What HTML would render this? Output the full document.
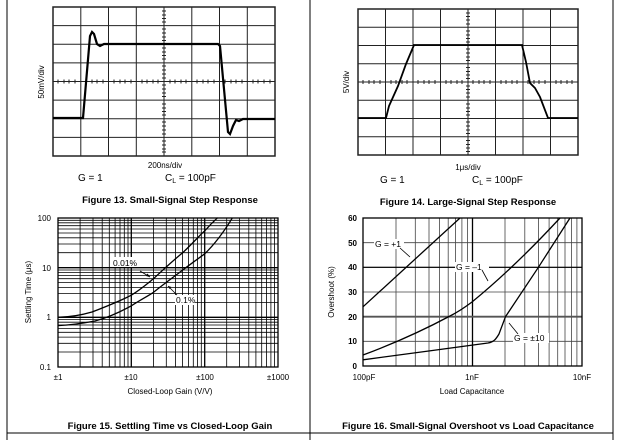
<!DOCTYPE html>
<html><head><meta charset="utf-8"><style>
html,body{margin:0;padding:0;background:#fff;}
svg{display:block;font-family:"Liberation Sans",Arial,sans-serif;}
</style></head><body>
<svg width="620" height="440" viewBox="0 0 620 440" xmlns="http://www.w3.org/2000/svg">
<rect width="620" height="440" fill="#fff"/>
<!-- frame lines -->
<line x1="7" y1="0" x2="7" y2="440" stroke="#000" stroke-width="1"/>
<line x1="310" y1="0" x2="310" y2="440" stroke="#000" stroke-width="1"/>
<line x1="613" y1="0" x2="613" y2="440" stroke="#000" stroke-width="1"/>
<line x1="7" y1="433" x2="613" y2="433" stroke="#000" stroke-width="1"/>

<!-- FIG 13 scope -->
<g stroke="#222" stroke-width="1" fill="none">
<rect x="53" y="7" width="222" height="149" stroke-width="1.5"/>
<path d="M80.8 7V156M108.5 7V156M136.3 7V156M164 7V156M191.8 7V156M219.5 7V156M247.3 7V156"/>
<path d="M53 25.6H275M53 44.3H275M53 62.9H275M53 81.5H275M53 100.1H275M53 118.8H275M53 137.4H275"/>
</g>
<g stroke="#222" stroke-width="1">
<path d="M58 79.5V83.5M64 79.5V83.5M69 79.5V83.5M75 79.5V83.5M86 79.5V83.5M92 79.5V83.5M97 79.5V83.5M103 79.5V83.5M114 79.5V83.5M120 79.5V83.5M125 79.5V83.5M131 79.5V83.5M142 79.5V83.5M147 79.5V83.5M153 79.5V83.5M158 79.5V83.5M170 79.5V83.5M175 79.5V83.5M181 79.5V83.5M186 79.5V83.5M197 79.5V83.5M203 79.5V83.5M208 79.5V83.5M214 79.5V83.5M225 79.5V83.5M231 79.5V83.5M236 79.5V83.5M242 79.5V83.5M253 79.5V83.5M258 79.5V83.5M264 79.5V83.5M270 79.5V83.5"/>
<path d="M162 11H166M162 15H166M162 18.5H166M162 22H166M162 29H166M162 33H166M162 37H166M162 40.5H166M162 48H166M162 52H166M162 55.5H166M162 59H166M162 66H166M162 70H166M162 74H166M162 78H166M162 85H166M162 89H166M162 93H166M162 96.5H166M162 104H166M162 108H166M162 111.5H166M162 115H166M162 122H166M162 126H166M162 130H166M162 134H166M162 141H166M162 145H166M162 149H166M162 152H166"/>
</g>
<path d="M53 118H83L90 36L92 32L94 34L97 44L100 46L104 44L108 44H218L220 46L228 132L230 134L233 126L236 120L239 121L243 119H275" fill="none" stroke="#000" stroke-width="2.2"/>
<text transform="translate(44,82) rotate(-90)" font-size="8" text-anchor="middle">50mV/div</text>
<text x="165" y="168" font-size="8" text-anchor="middle">200ns/div</text>
<text x="78" y="181" font-size="10">G = 1</text>
<text x="165" y="181" font-size="10">C<tspan font-size="7" dy="2">L</tspan><tspan dy="-2"> = 100pF</tspan></text>
<text x="170" y="203" font-size="9.5" font-weight="bold" text-anchor="middle">Figure 13. Small-Signal Step Response</text>

<!-- FIG 14 scope -->
<g stroke="#222" stroke-width="1" fill="none">
<rect x="358" y="9" width="220" height="146" stroke-width="1.5"/>
<path d="M385.5 9V155M413 9V155M440.5 9V155M468 9V155M495.5 9V155M523 9V155M550.5 9V155"/>
<path d="M358 27.3H578M358 45.5H578M358 63.8H578M358 82H578M358 100.3H578M358 118.5H578M358 136.8H578"/>
</g>
<g stroke="#222" stroke-width="1">
<path d="M363 80V84M369 80V84M374 80V84M380 80V84M391 80V84M396 80V84M402 80V84M407 80V84M418 80V84M424 80V84M429 80V84M435 80V84M446 80V84M451 80V84M457 80V84M462 80V84M473 80V84M479 80V84M484 80V84M490 80V84M501 80V84M506 80V84M512 80V84M517 80V84M528 80V84M534 80V84M539 80V84M545 80V84M556 80V84M561 80V84M567 80V84M572 80V84"/>
<path d="M466 13H470M466 16.5H470M466 20H470M466 24H470M466 31H470M466 35H470M466 38.5H470M466 42H470M466 49H470M466 53H470M466 57H470M466 60.5H470M466 67.5H470M466 71.5H470M466 75H470M466 78.5H470M466 86H470M466 89.5H470M466 93H470M466 97H470M466 104H470M466 108H470M466 111.5H470M466 115H470M466 122H470M466 126H470M466 130H470M466 133.5H470M466 140.5H470M466 144.5H470M466 148H470M466 151.5H470"/>
</g>
<path d="M358 118H386L389 106L398 86L406 64L414 45H522L526 62L530 83L535 88L540 97L548 118H578" fill="none" stroke="#000" stroke-width="1.8"/>
<text transform="translate(349,82) rotate(-90)" font-size="8" text-anchor="middle">5V/div</text>
<text x="468" y="170" font-size="8" text-anchor="middle">1μs/div</text>
<text x="380" y="183" font-size="10">G = 1</text>
<text x="472" y="183" font-size="10">C<tspan font-size="7" dy="2">L</tspan><tspan dy="-2"> = 100pF</tspan></text>
<text x="468" y="205" font-size="9.5" font-weight="bold" text-anchor="middle">Figure 14. Large-Signal Step Response</text>

<!-- FIG 15 -->
<g stroke="#000" fill="none">
<g stroke-width="0.8">
<path d="M80.1 218V367M93 218V367M102.2 218V367M109.3 218V367M115.1 218V367M120 218V367M124.3 218V367M128 218V367
M153.4 218V367M166.3 218V367M175.5 218V367M182.6 218V367M188.4 218V367M193.3 218V367M197.6 218V367M201.3 218V367
M226.7 218V367M239.6 218V367M248.8 218V367M255.9 218V367M261.7 218V367M266.6 218V367M270.9 218V367M274.6 218V367"/>
<path d="M58 352H278M58 343.3H278M58 337.1H278M58 332.3H278M58 328.4H278M58 325H278M58 322.2H278M58 319.6H278
M58 302.4H278M58 293.6H278M58 287.4H278M58 282.6H278M58 278.7H278M58 275.4H278M58 272.5H278M58 270H278
M58 252.7H278M58 244H278M58 237.8H278M58 233H278M58 229H278M58 225.7H278M58 222.8H278M58 220.3H278"/>
</g>
<path d="M131.3 218V367M204.7 218V367M58 317.3H278M58 267.7H278" stroke-width="1.3"/>
<rect x="58" y="218" width="220" height="149" stroke-width="1.3"/>
</g>
<path d="M58 317.3C70 317 80 315.5 92 312C105 307 120 301 131.3 295.2C140 290 147 284 153.4 278.8C165 268 175 259 182.6 252.8C192 244 199 236 204.7 230.9C209 226 214 221 217.6 217.7" fill="none" stroke="#000" stroke-width="1.3"/>
<path d="M58 325.6C70 325 82 323.5 95 321C110 317 122 311 131.3 305.8C140 300 148 296 153.4 292.4C165 283 175 276 182.6 270.1C192 263 199 258 204.7 253.8C216 243 225 230 232.5 217.7" fill="none" stroke="#000" stroke-width="1.3"/>
<rect x="112" y="257" width="28" height="10" fill="#fff"/>
<text x="113" y="266" font-size="8.5">0.01%</text>
<path d="M140 271L150 277" stroke="#000" stroke-width="0.8"/>
<path d="M150 277l-4-1 1.5-2.5z" fill="#000"/>
<rect x="175" y="295" width="20" height="10" fill="#fff"/>
<text x="176" y="303" font-size="8.5">0.1%</text>
<path d="M177 295L168 286" stroke="#000" stroke-width="0.8"/>
<path d="M168 286l3.5 1-2 2z" fill="#000"/>
<g font-size="8" text-anchor="end">
<text x="51" y="221">100</text><text x="51" y="271">10</text><text x="51" y="320">1</text><text x="51" y="370">0.1</text>
</g>
<g font-size="8" text-anchor="middle">
<text x="58" y="380">±1</text><text x="131" y="380">±10</text><text x="205" y="380">±100</text><text x="278" y="380">±1000</text>
</g>
<text x="170" y="394" font-size="8" text-anchor="middle">Closed-Loop Gain (V/V)</text>
<text transform="translate(31,292) rotate(-90)" font-size="8" text-anchor="middle">Settling Time (μs)</text>
<text x="170" y="429" font-size="9.5" font-weight="bold" text-anchor="middle">Figure 15. Settling Time vs Closed-Loop Gain</text>

<!-- FIG 16 -->
<g stroke="#000" fill="none">
<g stroke-width="0.8" stroke="#444">
<path d="M396 218V366M415.3 218V366M429 218V366M439.6 218V366M448.2 218V366M455.5 218V366M461.9 218V366M467.4 218V366
M505 218V366M524.8 218V366M538.5 218V366M549.1 218V366M557.7 218V366M565 218V366M571.4 218V366M576.9 218V366"/>
<path d="M363 341.3H582M363 316.7H582M363 292H582M363 267.3H582M363 242.7H582M363 242.7H582M363 218H582"/>
</g>
<path d="M472.5 218V366" stroke-width="1.3"/>
<path d="M363 316.7H582" stroke-width="1.8" stroke="#555"/>
<path d="M363 267.3H582" stroke-width="1.2"/>
<rect x="363" y="218" width="219" height="148" stroke-width="1.3"/>
</g>
<path d="M363 306.8L460 218" fill="none" stroke="#000" stroke-width="1.3"/>
<path d="M363 355C390 345 420 332 450 316C458 312 464 308 472 302C505 275 535 245 560 218" fill="none" stroke="#000" stroke-width="1.3"/>
<path d="M363 359.8C400 355 450 348 488 343C494 342 496 339 499 334L505.5 316.7L538.4 267.3L570 218" fill="none" stroke="#000" stroke-width="1.3"/>
<rect x="374" y="239" width="30" height="10" fill="#fff"/>
<text x="375" y="247" font-size="8.5">G = +1</text>
<path d="M400 248L410 257" stroke="#000" stroke-width="0.8"/>
<rect x="455" y="262" width="34" height="10" fill="#fff"/>
<text x="456" y="270" font-size="8.5">G = –1</text>
<path d="M482 270L488 281" stroke="#000" stroke-width="0.8"/>
<rect x="513" y="333" width="36" height="10" fill="#fff"/>
<text x="514" y="341" font-size="8.5">G = ±10</text>
<path d="M518 334L509 323" stroke="#000" stroke-width="0.8"/>
<g font-size="8" text-anchor="end" font-weight="bold">
<text x="357" y="221">60</text><text x="357" y="246">50</text><text x="357" y="270">40</text><text x="357" y="295">30</text><text x="357" y="320">20</text><text x="357" y="344">10</text><text x="357" y="369">0</text>
</g>
<g font-size="8" text-anchor="middle">
<text x="364" y="380">100pF</text><text x="472" y="380">1nF</text><text x="582" y="380">10nF</text>
</g>
<text x="472" y="394" font-size="8" text-anchor="middle">Load Capacitance</text>
<text transform="translate(334,292) rotate(-90)" font-size="8" text-anchor="middle">Overshoot (%)</text>
<text x="468" y="429" font-size="9.5" font-weight="bold" text-anchor="middle">Figure 16. Small-Signal Overshoot vs Load Capacitance</text>
</svg>
</body></html>
